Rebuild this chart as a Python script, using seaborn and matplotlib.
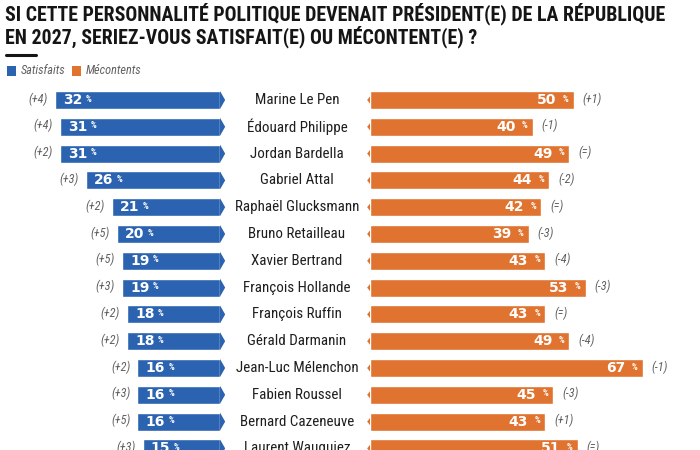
import matplotlib
matplotlib.use("Agg")
import matplotlib.pyplot as plt
import pandas as pd
import seaborn as sns
from matplotlib import font_manager
from matplotlib.patches import Polygon, Rectangle
from matplotlib.lines import Line2D

# --- data ---
names = [
    "Marine Le Pen", "Édouard Philippe", "Jordan Bardella", "Gabriel Attal",
    "Raphaël Glucksmann", "Bruno Retailleau", "Xavier Bertrand", "François Hollande",
    "François Ruffin", "Gérald Darmanin", "Jean-Luc Mélenchon", "Fabien Roussel",
    "Bernard Cazeneuve", "Laurent Wauquiez",
]
satisfaits = [32, 31, 31, 26, 21, 20, 19, 19, 18, 18, 16, 16, 16, 15]
sat_change = ["(+4)", "(+4)", "(+2)", "(+3)", "(+2)", "(+5)", "(+5)",
              "(+3)", "(+2)", "(+2)", "(+2)", "(+3)", "(+5)", "(+3)"]
mecontents = [50, 40, 49, 44, 42, 39, 43, 53, 43, 49, 67, 45, 43, 51]
mec_change = ["(+1)", "(-1)", "(=)", "(-2)", "(=)", "(-3)", "(-4)",
              "(-3)", "(=)", "(-4)", "(-1)", "(-3)", "(+1)", "(=)"]

title_lines = [
    "SI CETTE PERSONNALITÉ POLITIQUE DEVENAIT PRÉSIDENT(E) DE LA RÉPUBLIQUE",
    "EN 2027, SERIEZ-VOUS SATISFAIT(E) OU MÉCONTENT(E) ?",
]
legend_labels = ["Satisfaits", "Mécontents"]

BLUE = "#2b63b0"
ORANGE = "#e0732f"
GREY = "#606060"
DARK = "#1e1e1e"

sns.set_theme(style="white")
available = {f.name for f in font_manager.fontManager.ttflist}
narrow = next((f for f in ["Roboto Condensed", "Liberation Sans Narrow", "DejaVu Sans"]
               if f in available), "DejaVu Sans")
plt.rcParams["font.family"] = [narrow, "DejaVu Sans"]

df = pd.DataFrame({"name": names, "satisfaits": satisfaits, "mecontents": mecontents})

W, H = 700, 450
fig = plt.figure(figsize=(7, 4.5), dpi=100)
fig.patch.set_facecolor("white")

# row geometry (pixels from top)
row0, step, bar_px = 100, 26.8, 18
ylim = ((H - row0) / step, -row0 / step)
bar_w = bar_px / step

# left panel: 5.16 px per %, bars end at x=220
axL = fig.add_axes([10 / W, 0, 210 / W, 1])
sns.barplot(data=df, x="satisfaits", y="name", color=BLUE, width=bar_w,
            saturation=1, ax=axL)
axL.set_xlim(210 / 5.16, 0)

# right panel: 4.07 px per %, bars start at x=370
axR = fig.add_axes([370 / W, 0, 320 / W, 1])
sns.barplot(data=df, x="mecontents", y="name", color=ORANGE, width=bar_w,
            saturation=1, ax=axR)
axR.set_xlim(0, 320 / 4.07)

for ax in (axL, axR):
    ax.set_ylim(*ylim)
    ax.axis("off")

# pointed ends
for p in axL.patches:
    y0, h = p.get_y(), p.get_height()
    axL.add_patch(Polygon([(0, y0), (-1.0, y0 + h / 2), (0, y0 + h)],
                          closed=True, color=BLUE, lw=0, clip_on=False))
for p in axR.patches[:len(names)]:
    y0, h = p.get_y(), p.get_height()
    axR.add_patch(Polygon([(0, y0 + 0.3 * h), (-0.7, y0 + h / 2), (0, y0 + 0.7 * h)],
                          closed=True, color=ORANGE, lw=0, clip_on=False))

for i, (s, sc, m, mc, nm) in enumerate(zip(satisfaits, sat_change, mecontents,
                                             mec_change, names)):
    # satisfaits value
    axL.annotate(str(s), (s, i), xytext=(8, 0), textcoords="offset pixels",
                 ha="left", va="center", color="white", fontsize=10,
                 fontweight="heavy", family=["DejaVu Sans"])
    axL.annotate("%", (s, i), xytext=(31, 1), textcoords="offset pixels",
                 ha="left", va="center", color="white", fontsize=6.5,
                 fontweight="bold")
    axL.annotate(sc, (s, i), xytext=(-7, 1), textcoords="offset pixels",
                 ha="right", va="center", color=GREY, fontsize=8.8, style="italic")
    # mecontents value
    axR.annotate(str(m), (m, i), xytext=(-17, 0), textcoords="offset pixels",
                 ha="right", va="center", color="white", fontsize=10,
                 fontweight="heavy", family=["DejaVu Sans"])
    axR.annotate("%", (m, i), xytext=(-5, 1), textcoords="offset pixels",
                 ha="right", va="center", color="white", fontsize=6.5,
                 fontweight="bold")
    axR.annotate(mc, (m, i), xytext=(9, 1), textcoords="offset pixels",
                 ha="left", va="center", color=GREY, fontsize=8.8, style="italic")
    # name in the middle
    axR.annotate(nm, (0, i), xytext=(-73, 0), textcoords="offset pixels",
                 ha="center", va="center", color=DARK, fontsize=10.8)

# title
fig.text(5 / W, 1 - 20 / H, title_lines[0], ha="left", va="baseline",
         fontsize=14.3, fontweight="heavy", color="#151515")
fig.text(5 / W, 1 - 43 / H, title_lines[1], ha="left", va="baseline",
         fontsize=14.3, fontweight="heavy", color="#151515")
fig.add_artist(Line2D([6 / W, 36 / W], [1 - 55 / H, 1 - 55 / H], color="#151515",
                      lw=2.2, transform=fig.transFigure))

# legend
for x0, col, lab in [(7, BLUE, legend_labels[0]), (72, ORANGE, legend_labels[1])]:
    fig.add_artist(Rectangle((x0 / W, 1 - 76 / H), 9 / W, 10 / H, color=col,
                             lw=0, transform=fig.transFigure))
    fig.text((x0 + 14) / W, 1 - 71 / H, lab, ha="left", va="center",
             fontsize=8.8, style="italic", color=GREY)

fig.savefig("out.png", dpi=100, facecolor="white")
